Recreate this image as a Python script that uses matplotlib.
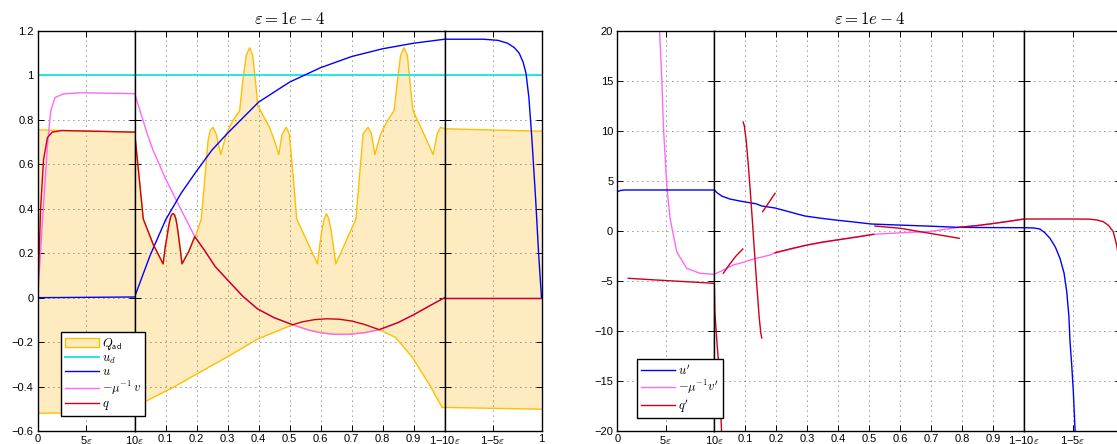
import matplotlib
matplotlib.use('Agg')
import matplotlib.pyplot as plt
import numpy as np
from matplotlib.patches import Patch
from matplotlib.lines import Line2D

plt.rcParams['font.family'] = ['Liberation Sans', 'DejaVu Sans']
plt.rcParams['mathtext.fontset'] = 'cm'

eps = 1e-4

# colours
c_fill = '#feecc0'
c_edge = '#ffbf00'
c_ud = '#22e8e8'
c_u = '#0000ff'
c_v = '#ff66ff'
c_q = '#cc0018'

# axis ticks / labels
yticks_l = [-0.6, -0.4, -0.2, 0, 0.2, 0.4, 0.6, 0.8, 1.0, 1.2]
yticks_r = [-20, -15, -10, -5, 0, 5, 10, 15, 20]
xt_a = [0, 5, 10]                      # in units of eps from x=0
xl_a = ['0', r'5$\varepsilon$', r'10$\varepsilon$']
xt_m = [0.1, 0.2, 0.3, 0.4, 0.5, 0.6, 0.7, 0.8, 0.9]
xt_c = [10, 5, 0]                      # in units of eps from x=1
xl_c = ['1\u221210' + r'$\varepsilon$', '1\u22125' + r'$\varepsilon$', '1']

# ---------------- left panel : Q_ad, u_d, u, -v/mu, q ----------------
# segment a: xi = x/eps, segment m: x, segment c: eta = (1-x)/eps
qad_up_a_xi = [0, 10]
qad_up_a = [0.755, 0.745]
qad_lo_a_xi = [0, 10]
qad_lo_a = [-0.52, -0.515]

qad_up_m_x = [0, 0.006, 0.028, 0.06, 0.092, 0.099, 0.105, 0.109, 0.113, 0.117, 0.121, 0.125,
              0.129, 0.133, 0.137, 0.141, 0.147, 0.153, 0.175, 0.197,
              0.215, 0.226, 0.237, 0.244, 0.253, 0.263, 0.278, 0.296, 0.317, 0.339, 0.349, 0.360,
              0.371, 0.381, 0.392, 0.397, 0.435, 0.451, 0.465, 0.476, 0.489, 0.499, 0.510, 0.523,
              0.590, 0.598, 0.605, 0.612, 0.619, 0.626, 0.633, 0.640, 0.649,
              0.714, 0.727, 0.737, 0.753, 0.764, 0.775, 0.794, 0.816, 0.837, 0.848, 0.858, 0.869,
              0.880, 0.890, 0.898, 0.928, 0.963, 0.976, 0.987, 1.0]
qad_up_m = [0.745, 0.662, 0.354, 0.24, 0.152, 0.23, 0.278, 0.315, 0.344, 0.366, 0.376, 0.378,
            0.372, 0.355, 0.325, 0.285, 0.22, 0.152, 0.209, 0.279,
            0.354, 0.527, 0.707, 0.752, 0.767, 0.737, 0.644, 0.737, 0.797, 0.842, 0.977, 1.09,
            1.125, 1.09, 0.947, 0.865, 0.767, 0.707, 0.644, 0.737, 0.767, 0.737, 0.572, 0.354,
            0.152, 0.245, 0.31, 0.357, 0.377, 0.357, 0.31, 0.245, 0.152,
            0.354, 0.572, 0.737, 0.767, 0.737, 0.644, 0.737, 0.797, 0.842, 0.977, 1.09, 1.125,
            1.09, 0.947, 0.842, 0.752, 0.644, 0.737, 0.767, 0.76]
qad_lo_m_x = [0, 0.028, 0.124, 0.2, 0.306, 0.397, 0.51, 0.56, 0.6, 0.644, 0.69, 0.74, 0.789,
              0.842, 0.896, 0.95, 0.992, 1.0]
qad_lo_m = [-0.48, -0.472, -0.404, -0.344, -0.261, -0.186, -0.122, -0.145, -0.158, -0.165,
            -0.165, -0.158, -0.144, -0.179, -0.269, -0.389, -0.494, -0.495]

qad_up_c_eta = [10, 0]
qad_up_c = [0.76, 0.749]
qad_lo_c_eta = [10, 0]
qad_lo_c = [-0.494, -0.502]

u_a_xi = [0, 10]
u_a = [0, 0.003]
u_m_x = [0, 0.05, 0.1, 0.15, 0.2, 0.25, 0.3, 0.4, 0.5, 0.6, 0.7, 0.8, 0.9, 1.0]
u_m = [0.003, 0.19, 0.35, 0.47, 0.57, 0.665, 0.74, 0.88, 0.97, 1.035, 1.085, 1.12, 1.145, 1.163]
u_c_eta = [10, 6, 4.5, 3.5, 2.8, 2.3, 1.9, 1.6, 1.3, 1.0, 0.6, 0.3, 0]
u_c = [1.163, 1.163, 1.158, 1.145, 1.125, 1.10, 1.06, 1.01, 0.9, 0.72, 0.44, 0.2, 0]

v_a_xi = [0, 0.5, 1.0, 1.34, 1.78, 2.64, 4.4, 10]
v_a = [0, 0.35, 0.68, 0.84, 0.9, 0.917, 0.922, 0.918]
v_m_x = [0, 0.02, 0.04, 0.06, 0.1, 0.135, 0.194, 0.226, 0.26, 0.307, 0.35, 0.397, 0.45, 0.51,
         0.56, 0.6, 0.644, 0.69, 0.74, 0.789, 0.85, 0.9, 0.95, 1.0]
v_m = [0.918, 0.83, 0.74, 0.662, 0.535, 0.437, 0.275, 0.212, 0.14, 0.069, 0.005, -0.051, -0.09,
       -0.122, -0.145, -0.158, -0.165, -0.165, -0.158, -0.144, -0.112, -0.077, -0.038, 0.0]
v_c_eta = [10, 0]
v_c = [0, 0]

q_a_xi = [0, 0.3, 0.6, 1.0, 1.5, 2.5, 10]
q_a = [0, 0.4, 0.62, 0.72, 0.745, 0.752, 0.745]
q_m_x = [0, 0.006, 0.028, 0.06, 0.092, 0.099, 0.105, 0.109, 0.113, 0.117, 0.121, 0.125, 0.129,
         0.133, 0.137, 0.141, 0.147, 0.153, 0.175, 0.194, 0.226, 0.26, 0.307, 0.35, 0.397, 0.45,
         0.51, 0.54, 0.58, 0.62, 0.66, 0.70, 0.74, 0.789, 0.85, 0.9, 0.95, 1.0]
q_m = [0.745, 0.662, 0.354, 0.24, 0.152, 0.23, 0.278, 0.315, 0.344, 0.366, 0.376, 0.378, 0.372,
       0.355, 0.325, 0.285, 0.22, 0.152, 0.209, 0.275, 0.212, 0.14, 0.069, 0.005, -0.051, -0.09,
       -0.122, -0.109, -0.099, -0.095, -0.097, -0.105, -0.12, -0.144, -0.112, -0.077, -0.038, 0.0]
q_c_eta = [10, 0]
q_c = [0, 0]

# ---------------- right panel : derivatives ----------------
du_a_xi = [0, 0.3, 0.7, 1.5, 10]
du_a = [3.93, 4.05, 4.1, 4.1, 4.1]
du_m_x = [0, 0.01, 0.025, 0.05, 0.079, 0.1, 0.12, 0.135, 0.153, 0.196, 0.25, 0.292, 0.35, 0.399,
          0.45, 0.506, 0.591, 0.7, 0.783, 0.9, 1.0]
du_m = [4.1, 3.8, 3.48, 3.2, 3.02, 2.9, 2.8, 2.72, 2.5, 2.3, 1.85, 1.5, 1.25, 1.07, 0.9, 0.7,
        0.6, 0.48, 0.37, 0.34, 0.33]
du_c_eta = [10, 9, 8.4, 7.9, 7.35, 6.8, 6.32, 5.9, 5.62, 5.4, 5.28, 5.1, 4.94, 4.77, 4.6]
du_c = [0.33, 0.3, 0.2, -0.15, -0.73, -1.6, -2.73, -4.2, -6.07, -8.5, -11.07, -13.5, -16.07,
        -19.7, -23]

dv_a_xi = [4.2, 4.32, 4.57, 4.74, 5.09, 5.43, 6.12, 7.15, 8.52, 9.9, 10]
dv_a = [23.5, 20.6, 15.6, 10.6, 4.6, 1.27, -2.07, -3.73, -4.23, -4.33, -4.33]
dv_m_x = [0, 0.029, 0.061, 0.094, 0.126, 0.18, 0.196, 0.3, 0.41, 0.514, 0.6, 0.695, 0.79, 0.85,
          0.9, 0.95, 1.0]
dv_m = [-4.33, -3.9, -3.4, -3.13, -2.8, -2.4, -2.2, -1.4, -0.83, -0.33, -0.18, -0.05, 0.37,
        0.55, 0.75, 0.97, 1.2]

dq_a_xi = [1.12, 4, 10]
dq_a = [-4.73, -4.9, -5.23]
dq_m1_x = [0, 0.002, 0.008, 0.013, 0.018, 0.024]
dq_m1 = [-5.2, -8.2, -10.9, -12.9, -16.0, -20.5]
dq_m2_x = [0.029, 0.05, 0.07, 0.092]
dq_m2 = [-4.23, -3.3, -2.5, -1.8]
dq_m3_x = [0.093, 0.097, 0.103, 0.11, 0.117, 0.124, 0.131, 0.138, 0.145, 0.15, 0.153]
dq_m3 = [10.9, 10.5, 9.0, 6.5, 3.6, 0.5, -2.7, -5.8, -8.7, -10.2, -10.7]
dq_m4_x = [0.156, 0.175, 0.196]
dq_m4 = [1.93, 2.8, 3.77]
dq_m5_x = [0.196, 0.25, 0.3, 0.35, 0.41, 0.46, 0.514]
dq_m5 = [-2.17, -1.75, -1.4, -1.1, -0.83, -0.6, -0.33]
dq_m6_x = [0.518, 0.6, 0.695, 0.79]
dq_m6 = [0.5, 0.27, -0.23, -0.73]
dq_m7_x = [0.79, 0.85, 0.9, 0.95, 1.0]
dq_m7 = [0.37, 0.55, 0.75, 0.97, 1.2]
dq_c_eta = [10, 6, 4.5, 3.22, 2.5, 1.85, 1.3, 0.82, 0.47, 0.2, 0]
dq_c = [1.2, 1.2, 1.2, 1.18, 1.1, 0.93, 0.55, -0.07, -1.4, -3.0, -4.5]


def to_x(seg, t):
    t = np.asarray(t, dtype=float)
    if seg == 0:
        return t * eps
    if seg == 2:
        return 1 - t * eps
    return t


W, H = 1117, 444
fig = plt.figure(figsize=(W / 100, H / 100), dpi=100)


def panel(x0, ylim, yticks, last_label=True):
    # three axes glued together: boundary layer | interior | boundary layer
    widths = [96.9, 310.0, 96.9]
    xlims = [(0, 10 * eps), (0, 1), (1 - 10 * eps, 1)]
    xts = [to_x(0, xt_a), xt_m, to_x(2, xt_c)]
    xls = [xl_a, ['%g' % t for t in xt_m], xl_c if last_label else xl_c[:2] + ['']]
    ylabs = [('%g' % t).replace('-', '\u2212') for t in yticks]
    axs = []
    left = x0
    for i in range(3):
        ax = fig.add_axes([left / W, 13 / H, widths[i] / W, 400 / H])
        left += widths[i]
        ax.set_xlim(*xlims[i])
        ax.set_ylim(*ylim)
        ax.set_xticks(xts[i])
        ax.set_xticklabels(xls[i])
        ax.set_yticks(yticks)
        if i == 0:
            ax.set_yticklabels(ylabs)
        else:
            ax.set_yticklabels([])
        ax.tick_params(direction='in', top=True, right=True, length=4, width=0.7,
                       labelsize=8)
        ax.tick_params(axis='x', pad=2)
        ax.tick_params(axis='y', pad=3)
        ax.grid(True, linestyle=(0, (1, 5)), color='0.2', linewidth=0.6)
        for sp in ax.spines.values():
            sp.set_linewidth(1.0)
        axs.append(ax)
    axs[1].set_title(r'$\varepsilon = 1e-4$', fontsize=12, pad=5)
    return axs


def draw(axs, seg, t, y, **kw):
    axs[seg].plot(to_x(seg, t), y, **kw)


# left panel
axl = panel(37.7, (-0.6, 1.2), yticks_l)
for seg, (ux, uy, lx, ly) in enumerate([(qad_up_a_xi, qad_up_a, qad_lo_a_xi, qad_lo_a),
                                        (qad_up_m_x, qad_up_m, qad_lo_m_x, qad_lo_m),
                                        (qad_up_c_eta, qad_up_c, qad_lo_c_eta, qad_lo_c)]):
    px = np.r_[to_x(seg, ux), to_x(seg, lx)[::-1]]
    py = np.r_[uy, ly[::-1]]
    axl[seg].fill(px, py, facecolor=c_fill, edgecolor='none', zorder=1)
    draw(axl, seg, ux, uy, color=c_edge, lw=1.0, zorder=2)
    draw(axl, seg, lx, ly, color=c_edge, lw=1.0, zorder=2)

for seg in range(3):
    axl[seg].plot(axl[seg].get_xlim(), [1, 1], color=c_ud, lw=1.4, zorder=2.1)

for seg, (t, y) in enumerate([(v_a_xi, v_a), (v_m_x, v_m), (v_c_eta, v_c)]):
    draw(axl, seg, t, y, color=c_v, lw=1.0, zorder=2.2)
for seg, (t, y) in enumerate([(u_a_xi, u_a), (u_m_x, u_m), (u_c_eta, u_c)]):
    draw(axl, seg, t, y, color=c_u, lw=1.0, zorder=2.3)
for seg, (t, y) in enumerate([(q_a_xi, q_a), (q_m_x, q_m), (q_c_eta, q_c)]):
    draw(axl, seg, t, y, color=c_q, lw=1.0, zorder=2.4)

# right panel (its far edge runs past the figure border)
axr = panel(617.4, (-20, 20), yticks_r, last_label=False)
for seg, (t, y) in enumerate([(dv_a_xi, dv_a), (dv_m_x, dv_m)]):
    draw(axr, seg, t, y, color=c_v, lw=1.0, zorder=2.2)
for seg, (t, y) in enumerate([(du_a_xi, du_a), (du_m_x, du_m), (du_c_eta, du_c)]):
    draw(axr, seg, t, y, color=c_u, lw=1.0, zorder=2.3)
draw(axr, 0, dq_a_xi, dq_a, color=c_q, lw=1.0, zorder=2.4)
for t, y in [(dq_m1_x, dq_m1), (dq_m2_x, dq_m2), (dq_m3_x, dq_m3), (dq_m4_x, dq_m4),
             (dq_m5_x, dq_m5), (dq_m6_x, dq_m6), (dq_m7_x, dq_m7)]:
    draw(axr, 1, t, y, color=c_q, lw=1.0, zorder=2.4)
draw(axr, 2, dq_c_eta, dq_c, color=c_q, lw=1.0, zorder=2.4)

# legends
leg_kw = dict(loc='lower left', fontsize=9, fancybox=False, framealpha=1, edgecolor='black',
              handlelength=2.7, handletextpad=0.25, labelspacing=0.06, borderpad=0.3,
              borderaxespad=0)
hl = [Patch(facecolor=c_fill, edgecolor=c_edge, lw=1.0),
      Line2D([], [], color=c_ud, lw=1.4), Line2D([], [], color=c_u, lw=1.0),
      Line2D([], [], color=c_v, lw=1.0), Line2D([], [], color=c_q, lw=1.0)]
lg = fig.legend(hl, [r'$Q_{\mathsf{ad}}$', r'$u_d$', r'$u$', r'$-\mu^{-1}\,v$', r'$q$'],
                bbox_to_anchor=(61 / W, 1 - 415.7 / H), **leg_kw)
lg.get_frame().set_linewidth(1.0)
hr = [Line2D([], [], color=c_u, lw=1.0), Line2D([], [], color=c_v, lw=1.0),
      Line2D([], [], color=c_q, lw=1.0)]
lg2 = fig.legend(hr, [r"$u'$", r"$-\mu^{-1}v'$", r"$q'$"],
                 bbox_to_anchor=(637.3 / W, 1 - 418.3 / H), **leg_kw)
lg2.get_frame().set_linewidth(1.0)

fig.savefig('out.png', dpi=100)
